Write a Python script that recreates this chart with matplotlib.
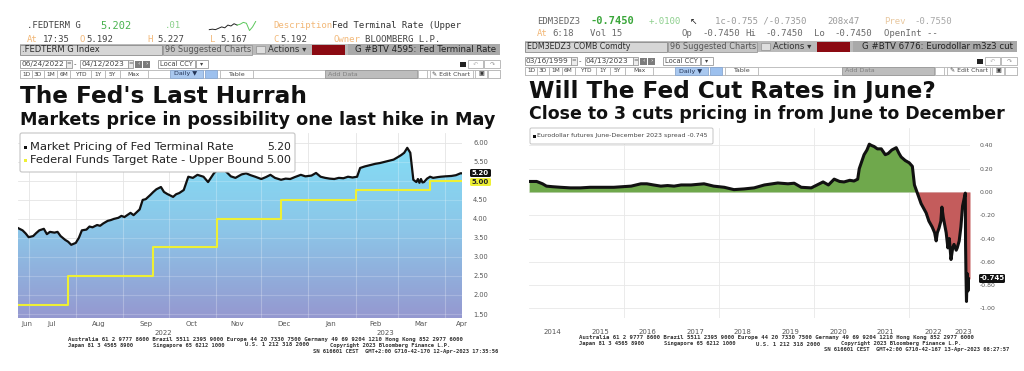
import matplotlib
matplotlib.use("Agg")
import matplotlib.pyplot as plt
import matplotlib.dates as mdates
import matplotlib.transforms as mtransforms
import numpy as np
import pandas as pd
from matplotlib.colors import LinearSegmentedColormap
from matplotlib.patches import Rectangle, FancyBboxPatch, Polygon
from matplotlib.ticker import FixedLocator, NullFormatter, FixedFormatter

W, H = 1024, 371

# left chart: market pricing of the Fed terminal rate
term_dates = ["2022-06-24", "2022-06-27", "2022-06-29", "2022-07-01", "2022-07-04", "2022-07-06",
              "2022-07-08", "2022-07-11", "2022-07-13", "2022-07-15", "2022-07-18", "2022-07-20",
              "2022-07-22", "2022-07-25", "2022-07-27", "2022-07-29", "2022-08-01", "2022-08-03",
              "2022-08-05", "2022-08-08", "2022-08-10", "2022-08-12", "2022-08-15", "2022-08-17",
              "2022-08-19", "2022-08-22", "2022-08-24", "2022-08-26", "2022-08-29", "2022-08-31",
              "2022-09-02", "2022-09-06", "2022-09-08", "2022-09-12", "2022-09-14", "2022-09-16",
              "2022-09-19", "2022-09-21", "2022-09-23", "2022-09-26", "2022-09-28", "2022-09-30",
              "2022-10-04", "2022-10-06", "2022-10-08", "2022-10-11", "2022-10-14", "2022-10-17",
              "2022-10-20", "2022-10-24", "2022-10-27", "2022-10-31", "2022-11-03", "2022-11-07",
              "2022-11-09", "2022-11-11", "2022-11-14", "2022-11-18", "2022-11-21", "2022-11-24",
              "2022-11-27", "2022-12-01", "2022-12-04", "2022-12-07", "2022-12-10", "2022-12-14",
              "2022-12-17", "2022-12-20", "2022-12-23", "2022-12-27", "2022-12-30", "2023-01-03",
              "2023-01-06", "2023-01-09", "2023-01-12", "2023-01-15", "2023-01-18", "2023-01-21",
              "2023-01-24", "2023-01-27", "2023-01-30", "2023-02-02", "2023-02-04", "2023-02-07",
              "2023-02-11", "2023-02-14", "2023-02-17", "2023-02-20", "2023-02-23", "2023-02-26",
              "2023-03-01", "2023-03-03", "2023-03-05", "2023-03-07", "2023-03-09", "2023-03-11",
              "2023-03-13", "2023-03-14", "2023-03-15", "2023-03-16", "2023-03-17", "2023-03-18",
              "2023-03-20", "2023-03-22", "2023-03-24", "2023-03-27", "2023-03-29", "2023-04-01",
              "2023-04-05", "2023-04-08", "2023-04-11", "2023-04-12"]
term_values = [3.76, 3.70, 3.62, 3.52, 3.55, 3.63,
               3.70, 3.74, 3.60, 3.66, 3.64, 3.66,
               3.55, 3.45, 3.40, 3.32, 3.37, 3.50,
               3.70, 3.72, 3.80, 3.78, 3.84, 3.82,
               3.88, 3.95, 3.97, 4.00, 4.03, 4.08,
               4.05, 4.16, 4.10, 4.25, 4.50, 4.52,
               4.63, 4.71, 4.78, 4.84, 4.71, 4.66,
               4.58, 4.65, 4.68, 4.76, 5.11, 5.08,
               5.16, 5.11, 4.97, 5.21, 5.32, 5.28,
               5.20, 5.12, 5.08, 5.17, 5.20, 5.15,
               5.11, 5.05, 5.10, 5.16, 5.08, 5.03,
               5.06, 5.05, 5.10, 5.16, 5.12, 5.14,
               5.21, 5.11, 5.08, 5.06, 5.05, 5.08,
               5.07, 5.11, 5.09, 5.11, 5.34, 5.38,
               5.42, 5.45, 5.47, 5.50, 5.53, 5.56,
               5.63, 5.68, 5.74, 5.87, 5.74, 5.03,
               4.97, 5.05, 4.95, 5.05, 4.96, 4.97,
               5.06, 5.11, 5.08, 5.10, 5.11, 5.12,
               5.13, 5.15, 5.20, 5.20]

# left chart: fed funds target rate, upper bound
upper_dates = ["2022-06-24", "2022-07-27", "2022-09-21", "2022-11-02", "2022-12-14",
               "2023-02-01", "2023-03-22", "2023-04-12"]
upper_values = [1.75, 2.50, 3.25, 4.00, 4.50, 4.75, 5.00, 5.00]

left_yticks = [1.5, 2.0, 2.5, 3.0, 3.5, 4.0, 4.5, 5.0, 5.5, 6.0]
left_month_labels = ["Jun", "Jul", "Aug", "Sep", "Oct", "Nov", "Dec", "Jan", "Feb", "Mar", "Apr"]
left_month_pos = ["2022-06-30", "2022-07-16", "2022-08-16", "2022-09-16", "2022-10-16", "2022-11-15",
                  "2022-12-16", "2023-01-16", "2023-02-14", "2023-03-16", "2023-04-12"]

# right chart: eurodollar futures june-december 2023 spread
ed_dates = ["2014-01-02", "2014-03-01", "2014-04-15", "2014-05-15", "2014-07-01", "2014-09-01",
            "2014-11-15", "2015-02-01", "2015-04-15", "2015-07-08", "2015-10-15", "2015-12-20",
            "2016-02-25", "2016-05-10", "2016-06-25", "2016-08-15", "2016-10-10", "2016-12-01",
            "2017-01-20", "2017-03-15", "2017-05-30", "2017-09-07", "2017-11-20", "2018-02-10",
            "2018-04-25", "2018-07-12", "2018-09-27", "2018-12-15", "2019-03-28", "2019-06-14",
            "2019-08-01", "2019-09-24", "2019-12-10", "2020-03-10", "2020-04-20", "2020-06-03",
            "2020-07-15", "2020-08-18", "2020-10-01", "2020-11-03", "2020-12-01", "2020-12-13",
            "2021-01-19", "2021-02-10", "2021-02-28", "2021-03-15", "2021-04-06", "2021-05-01",
            "2021-05-31", "2021-07-01", "2021-07-23", "2021-08-20", "2021-09-23", "2021-10-15",
            "2021-10-31", "2021-12-01", "2022-01-01", "2022-01-25", "2022-02-10", "2022-03-11",
            "2022-04-02", "2022-05-11", "2022-06-01", "2022-06-26", "2022-07-15", "2022-07-27",
            "2022-08-05", "2022-08-18", "2022-09-01", "2022-09-09", "2022-09-20", "2022-10-12",
            "2022-10-25", "2022-11-05", "2022-11-18", "2022-12-01", "2022-12-11", "2022-12-28",
            "2023-01-05", "2023-01-20", "2023-02-02", "2023-02-15", "2023-03-08", "2023-03-10",
            "2023-03-13", "2023-03-17", "2023-03-22", "2023-03-28", "2023-04-05", "2023-04-13"]
ed_values = [0.09, 0.09, 0.07, 0.05, 0.045, 0.04,
             0.035, 0.035, 0.04, 0.04, 0.04, 0.045,
             0.05, 0.07, 0.07, 0.06, 0.05, 0.055,
             0.05, 0.06, 0.06, 0.07, 0.05, 0.04,
             0.02, 0.026, 0.035, 0.06, 0.077, 0.07,
             0.075, 0.04, 0.035, 0.086, 0.06, 0.11,
             0.09, 0.086, 0.10, 0.094, 0.11, 0.20,
             0.32, 0.36, 0.41, 0.40, 0.39, 0.37,
             0.37, 0.32, 0.33, 0.36, 0.38, 0.33,
             0.30, 0.27, 0.25, 0.22, 0.06, -0.03,
             -0.10, -0.18, -0.25, -0.30, -0.35, -0.42,
             -0.35, -0.31, -0.25, -0.13, -0.22, -0.35,
             -0.48, -0.40, -0.58, -0.48, -0.45, -0.50,
             -0.48, -0.42, -0.30, -0.12, -0.01, -0.45,
             -0.70, -0.94, -0.70, -0.85, -0.75, -0.745]
right_yticks = [0.4, 0.2, 0.0, -0.2, -0.4, -0.6, -0.8, -1.0]
right_years = list(range(2014, 2024))

# small intraday sparkline in the left header
spark_values = [2.0, 2.1, 2.0, 2.3, 2.6, 2.4, 3.0, 2.8, 3.3, 3.0, 3.2, 3.6, 3.4, 1.8, 2.6, 3.8]


def to_num(dates):
    return mdates.date2num(pd.to_datetime(dates).to_numpy())


def year_centers(lo, hi, years):
    out = []
    for yr in years:
        a = max(pd.Timestamp(lo), pd.Timestamp(yr, 1, 1))
        b = min(pd.Timestamp(hi), pd.Timestamp(yr + 1, 1, 1))
        out.append(a + (b - a) / 2)
    return to_num(out)


fig = plt.figure(figsize=(W / 100, H / 100), dpi=100)
fig.patch.set_facecolor("white")
R = fig.canvas.get_renderer()


def px_axes(x0, y0, x1, y1):
    return fig.add_axes([x0 / W, 1 - y1 / H, (x1 - x0) / W, (y1 - y0) / H])


# ---------------- left chart ----------------
L = (18, 133, 462, 318)
axL = px_axes(*L)
lo_l, hi_l = "2022-06-24", "2023-04-12"
x0l, x1l = to_num([lo_l, hi_l])
ymin_l, ymax_l = 1.395, 6.26
tx = to_num(term_dates)
tv = np.array(term_values)

cmap = LinearSegmentedColormap.from_list("bbg", ["#9598d0", "#8cc6e8", "#83def6"])
grad = np.linspace(0, 1, 256).reshape(-1, 1)
im = axL.imshow(grad, cmap=cmap, origin="lower", aspect="auto",
                extent=[x0l, x1l, ymin_l, 6.0], zorder=1)
poly = Polygon([(tx[0], ymin_l)] + list(zip(tx, tv)) + [(tx[-1], ymin_l)], closed=True,
               facecolor="none", edgecolor="none", transform=axL.transData)
axL.add_patch(poly)
im.set_clip_path(poly)

month_starts = to_num(pd.date_range("2022-07-01", "2023-04-01", freq="MS"))
for m in month_starts:
    ln = axL.axvline(m, color="white", alpha=0.25, lw=0.8, zorder=2)
    ln.set_clip_path(poly)
for v in left_yticks:
    ln = axL.axhline(v, color="white", alpha=0.2, lw=0.8, zorder=2)
    ln.set_clip_path(poly)

axL.step(to_num(upper_dates), upper_values, where="post", color="#eef034", lw=1.5, zorder=3)
axL.plot(tx, tv, color="#111111", lw=1.6, zorder=4)

axL.set_xlim(x0l, x1l)
axL.set_ylim(ymin_l, ymax_l)
axL.yaxis.tick_right()
axL.set_yticks(left_yticks)
axL.set_yticklabels([f"{v:.2f}" for v in left_yticks])
axL.tick_params(axis="y", length=0, pad=8, labelsize=4.8, labelcolor="#555555")
axL.xaxis.set_major_locator(FixedLocator(month_starts))
axL.xaxis.set_major_formatter(NullFormatter())
axL.xaxis.set_minor_locator(FixedLocator(to_num(left_month_pos)))
axL.xaxis.set_minor_formatter(FixedFormatter(left_month_labels))
axL.tick_params(axis="x", which="both", length=0, pad=2, labelsize=5.0, labelcolor="#555555")
axL.grid(which="major", color="#e4e4e4", lw=0.6, zorder=0)
axL.set_axisbelow(True)
for s in axL.spines.values():
    s.set_visible(False)
blend = mtransforms.blended_transform_factory(axL.transData, axL.transAxes)
for xc, yr in zip(year_centers(lo_l, hi_l, [2022, 2023]), ["2022", "2023"]):
    axL.text(xc, (L[3] - 333) / (L[3] - L[1]), yr, transform=blend, ha="center", va="center",
             fontsize=5.0, color="#555555")

# ---------------- right chart ----------------
Rr = (529, 128, 970, 318)
axR = px_axes(*Rr)
lo_r, hi_r = "2014-01-01", "2023-04-13"
ex = to_num(ed_dates)
ev = np.array(ed_values)
axR.fill_between(ex, ev, 0, where=ev >= 0, interpolate=True, color="#6fa84c", lw=0, zorder=2)
axR.fill_between(ex, ev, 0, where=ev <= 0, interpolate=True, color="#c45c5c", lw=0, zorder=2)
axR.plot(ex, ev, color="#111111", lw=2.2, zorder=3)
axR.set_xlim(*to_num([lo_r, hi_r]))
axR.set_ylim(-1.082, 0.549)
axR.yaxis.tick_right()
axR.set_yticks(right_yticks)
axR.set_yticklabels([f"{v:.2f}" for v in right_yticks])
axR.tick_params(axis="y", length=0, pad=7, labelsize=4.4, labelcolor="#555555")
axR.xaxis.set_major_locator(FixedLocator(to_num(["2016-01-01", "2018-01-01", "2020-01-01", "2022-01-01"])))
axR.xaxis.set_major_formatter(NullFormatter())
axR.xaxis.set_minor_locator(FixedLocator(year_centers(lo_r, hi_r, right_years)))
axR.xaxis.set_minor_formatter(FixedFormatter([str(y) for y in right_years]))
axR.tick_params(axis="x", which="both", length=0, pad=8, labelsize=5.0, labelcolor="#555555")
axR.grid(which="major", color="#e8e8e8", lw=0.6, zorder=0)
axR.set_axisbelow(True)
for s in axR.spines.values():
    s.set_visible(False)

# sparkline
axS = px_axes(207, 21, 258, 31)
axS.plot(range(10), spark_values[:10], color="#222222", lw=0.7)
axS.plot(range(9, len(spark_values)), spark_values[9:], color="#5cc85c", lw=0.7)
axS.axis("off")

# ---------------- overlay (header, titles, legends, footers) ----------------
ov = px_axes(0, 0, W, H)
ov.set_xlim(0, W)
ov.set_ylim(H, 0)
ov.axis("off")


def txt(x, y, s, size=6.0, color="#333333", width=None, ha="left", va="center",
        family="DejaVu Sans", weight="normal"):
    t = ov.text(x, y, s, fontsize=size, color=color, ha=ha, va=va, family=family, weight=weight)
    if width:
        w = t.get_window_extent(renderer=R).width
        t.set_fontsize(size * width / w)
    return t


def box(x0, y0, x1, y1, fc, ec="none", lw=0.6):
    ov.add_patch(Rectangle((x0, y0), x1 - x0, y1 - y0, facecolor=fc, edgecolor=ec, linewidth=lw))


MONO = "DejaVu Sans Mono"
ORANGE = "#f2b878"


def toolbar(dx, dy, end, ticker, tw, btv, bw, d1, d2):
    y = 44 + dy
    box(20 + dx, y, end, y + 11, "#bababa")
    box(20 + dx, y + 0.5, 162 + dx, y + 10.5, "#d6d6d6", "#8c8c8c")
    txt(22 + dx, y + 5.5, ticker, 7, "#2b2b2b", width=tw)
    box(163 + dx, y + 0.5, 252 + dx, y + 10.5, "#c6c6c6", "#9a9a9a")
    txt(165 + dx, y + 5.5, "96 Suggested Charts", 7, "#555555", width=85)
    box(256 + dx, y + 2, 265 + dx, y + 9, "#dedede", "#9a9a9a")
    txt(268 + dx, y + 5.5, "Actions \u25be", 7, "#333333", width=38)
    box(312 + dx, y + 0.5, 345 + dx, y + 10.5, "#8b0a12")
    box(348 + dx, y, end, y + 11, "#a9a9a9")
    txt(end - 4, y + 5.5, btv, 7, "#222222", width=bw, ha="right")
    # date row
    y = 64 + dy
    box(20 + dx, y - 4, 66 + dx, y + 4, "white", "#9a9a9a")
    txt(21 + dx, y, d1, 5, "#444444", width=43)
    box(66 + dx, y - 4, 72 + dx, y + 4, "#ececec", "#9a9a9a")
    txt(69 + dx, y, "=", 4, "#555555", ha="center")
    txt(75 + dx, y, "-", 5, "#444444", ha="center")
    box(80 + dx, y - 4, 128 + dx, y + 4, "white", "#9a9a9a")
    txt(81 + dx, y, d2, 5, "#444444", width=43)
    box(128 + dx, y - 4, 133 + dx, y + 4, "#ececec", "#9a9a9a")
    txt(130.5 + dx, y, "=", 4, "#555555", ha="center")
    box(135 + dx, y - 3.5, 142 + dx, y + 3.5, "#7c7c7c")
    box(143 + dx, y - 3.5, 150 + dx, y + 3.5, "#7c7c7c")
    txt(138.5 + dx, y, "\u2039", 4.5, "white", ha="center")
    txt(146.5 + dx, y, "\u203a", 4.5, "white", ha="center")
    box(158 + dx, y - 4, 195 + dx, y + 4, "white", "#9a9a9a")
    txt(160 + dx, y, "Local CCY", 5, "#444444", width=33)
    box(196 + dx, y - 4, 208 + dx, y + 4, "white", "#9a9a9a")
    txt(202 + dx, y, "\u25be", 4.5, "#444444", ha="center")
    box(end - 40, y - 2.5, end - 34, y + 2.5, "#222222")
    box(end - 32, y - 4, end - 17, y + 4, "white", "#b0b0b0")
    box(end - 16, y - 4, end, y + 4, "white", "#b0b0b0")
    txt(end - 24.5, y, "\u21b6", 4.5, "#bbbbbb", ha="center")
    txt(end - 8, y, "\u21b7", 4.5, "#999999", ha="center")
    # button row
    y = 74 + dy
    box(20 + dx, y - 4, end, y + 4, "white", "#b5b5b5")
    buttons = [("1D", 20, 32), ("3D", 32, 44), ("1M", 44, 57), ("6M", 57, 70), ("YTD", 70, 91),
               ("1Y", 91, 105), ("5Y", 105, 120), ("Max", 120, 148)]
    for lab, a, b in buttons:
        box(a + dx, y - 4, b + dx, y + 4, "white", "#b5b5b5")
        txt((a + b) / 2 + dx, y, lab, 4.2, "#444444", ha="center")
    box(170 + dx, y - 4, 203 + dx, y + 4, "#a9c8ef", "#8aa8d0")
    txt(174 + dx, y, "Daily \u25bc", 4.6, "#223355")
    box(205 + dx, y - 4, 217 + dx, y + 4, "#9cc0ee", "#8aa8d0")
    box(220 + dx, y - 4, 253 + dx, y + 4, "white", "#b5b5b5")
    txt(236 + dx, y, "Table", 4.6, "#444444", ha="center")
    box(end - 175, y - 4, end - 83, y + 4, "#bdbdbd", "#9a9a9a")
    txt(end - 172, y, "Add Data", 4.6, "#808080")
    box(end - 82, y - 4, end - 73, y + 4, "white", "#b5b5b5")
    box(end - 70, y - 4, end - 27, y + 4, "white", "#b5b5b5")
    txt(end - 48.5, y, "\u270e Edit Chart", 4.4, "#444444", ha="center")
    box(end - 25, y - 4, end - 13, y + 4, "white", "#b5b5b5")
    box(end - 12, y - 4, end, y + 4, "white", "#b5b5b5")
    txt(end - 19, y, "\u25a3", 4.5, "#333333", ha="center")


def footer(dx, dy, stamp):
    kw = dict(size=4, color="#333333", family=MONO, weight="bold")
    txt(68 + dx, 339 + dy, "Australia 61 2 9777 8600 Brazil 5511 2395 9000 Europe 44 20 7330 7500 "
        "Germany 49 69 9204 1210 Hong Kong 852 2977 6000", width=382, **kw)
    txt(68 + dx, 345 + dy, "Japan 81 3 4565 8900", width=65, **kw)
    txt(153 + dx, 345 + dy, "Singapore 65 6212 1000", width=70, **kw)
    txt(245 + dx, 345 + dy, "U.S. 1 212 318 2000", width=62, **kw)
    txt(330 + dx, 345 + dy, "Copyright 2023 Bloomberg Finance L.P.", width=120, **kw)
    txt(313 + dx, 351 + dy, stamp, width=182, **kw)


# left header
r1, r2 = 26, 39
txt(27, r1, ".FEDTERM G", 6.5, "#444444", family=MONO)
txt(100, r1, "5.202", 7.5, "#49b24f", family=MONO)
txt(165, r1, ".01", 6.5, "#8ad08a", family=MONO)
txt(273, r1, "Description", 6.5, ORANGE, family=MONO)
txt(332, r1, "Fed Terminal Rate (Upper", 6.5, "#333333", family=MONO)
for x, s, c in [(27, "At", ORANGE), (43, "17:35", "#444444"), (80, "O", ORANGE), (86, "5.192", "#444444"),
                (147, "H", ORANGE), (157, "5.227", "#444444"), (210, "L", ORANGE), (220, "5.167", "#444444"),
                (273, "C", ORANGE), (280, "5.192", "#444444"), (333, "Owner", ORANGE),
                (365, "BLOOMBERG L.P.", "#444444")]:
    txt(x, r2, s, 6.5, c, family=MONO)
toolbar(0, 0, 500, ".FEDTERM G Index", 78, "G #BTV 4595: Fed Terminal Rate", 141, "06/24/2022", "04/12/2023")

# right header
r1, r2 = 21.5, 34
GR = "#6a6a6a"
txt(537, r1, "EDM3EDZ3", 6.5, "#666666", family=MONO)
txt(590, r1, "-0.7450", 7.5, "#3aa63a", family=MONO, weight="bold")
txt(649, r1, "+.0100", 6.5, "#8ccf8c", family=MONO)
txt(690, r1, "\u2196", 6.5, "#222222")
txt(715, r1, "1c-0.755 /-0.7350", 6.5, "#9a9a9a", family=MONO)
txt(827, r1, "208x47", 6.5, "#9a9a9a", family=MONO)
txt(884, r1, "Prev", 6.5, "#e8c8a0", family=MONO)
txt(914, r1, "-0.7550", 6.5, "#a8a8a8", family=MONO)
for x, s, c in [(537, "At", ORANGE), (552, "6:18", GR), (590, "Vol 15", GR), (682, "Op", GR),
                (702, "-0.7450", GR), (745, "Hi", GR), (765, "-0.7450", GR), (814, "Lo", GR),
                (834, "-0.7450", GR), (884, "OpenInt --", GR)]:
    txt(x, r2, s, 6.5, c, family=MONO)
toolbar(505, -3, 1017, "EDM3EDZ3 COMB Comdty", 105, "G #BTV 6776: Eurodollar m3z3 cut", 151,
        "03/16/1999", "04/13/2023")

# titles
txt(20, 103, "The Fed's Last Hurrah", 15, "#111111", width=287, va="baseline", weight="bold")
txt(20, 125, "Markets price in possibility one last hike in May", 11, "#111111", width=473,
    va="baseline", weight="bold")
txt(529, 98, "Will The Fed Cut Rates in June?", 15, "#111111", width=406, va="baseline", weight="bold")
txt(529, 119, "Close to 3 cuts pricing in from June to December", 11, "#111111", width=474,
    va="baseline", weight="bold")

# left legend
ov.add_patch(FancyBboxPatch((20, 133), 275, 39, boxstyle="round,pad=0,rounding_size=2",
                            facecolor="white", edgecolor="#c4c4c4", linewidth=0.8))
box(24, 145.5, 27, 148.5, "#111111")
box(24, 158.5, 27, 161.5, "#eef034")
txt(30, 147, "Market Pricing of Fed Terminal Rate", 8, "#222222", width=204)
txt(30, 160, "Federal Funds Target Rate - Upper Bound", 8, "#222222", width=234)
txt(291, 147, "5.20", 8, "#222222", ha="right", width=24)
txt(291, 160, "5.00", 8, "#222222", ha="right", width=25)

# right legend
ov.add_patch(FancyBboxPatch((530, 128), 183, 16, boxstyle="round,pad=0,rounding_size=1.5",
                            facecolor="white", edgecolor="#c4c4c4", linewidth=0.7))
box(533, 134.5, 536, 137.5, "#111111")
txt(537, 136, "Eurodollar futures June-December 2023 spread -0.745", 5, "#444444", width=172)

# last-value tags
ov.add_patch(FancyBboxPatch((470, 169), 21, 8, boxstyle="round,pad=0,rounding_size=1.5",
                            facecolor="#111111", edgecolor="none"))
txt(480.5, 173, "5.20", 5, "white", ha="center", weight="bold")
ov.add_patch(FancyBboxPatch((470, 178), 21, 8, boxstyle="round,pad=0,rounding_size=1.5",
                            facecolor="#eef034", edgecolor="none"))
txt(480.5, 182, "5.00", 5, "#222222", ha="center", weight="bold")
ov.add_patch(FancyBboxPatch((979, 274), 26, 9, boxstyle="round,pad=0,rounding_size=1.5",
                            facecolor="#111111", edgecolor="none"))
txt(992, 278.5, "-0.745", 5, "white", ha="center", weight="bold")

footer(0, 0, "SN 616601 CEST  GMT+2:00 G710-42-170 12-Apr-2023 17:35:56")
footer(511, -1, "SN 616601 CEST  GMT+2:00 G710-42-167 13-Apr-2023 08:27:57")

fig.savefig("out.png", dpi=100, facecolor="white")
